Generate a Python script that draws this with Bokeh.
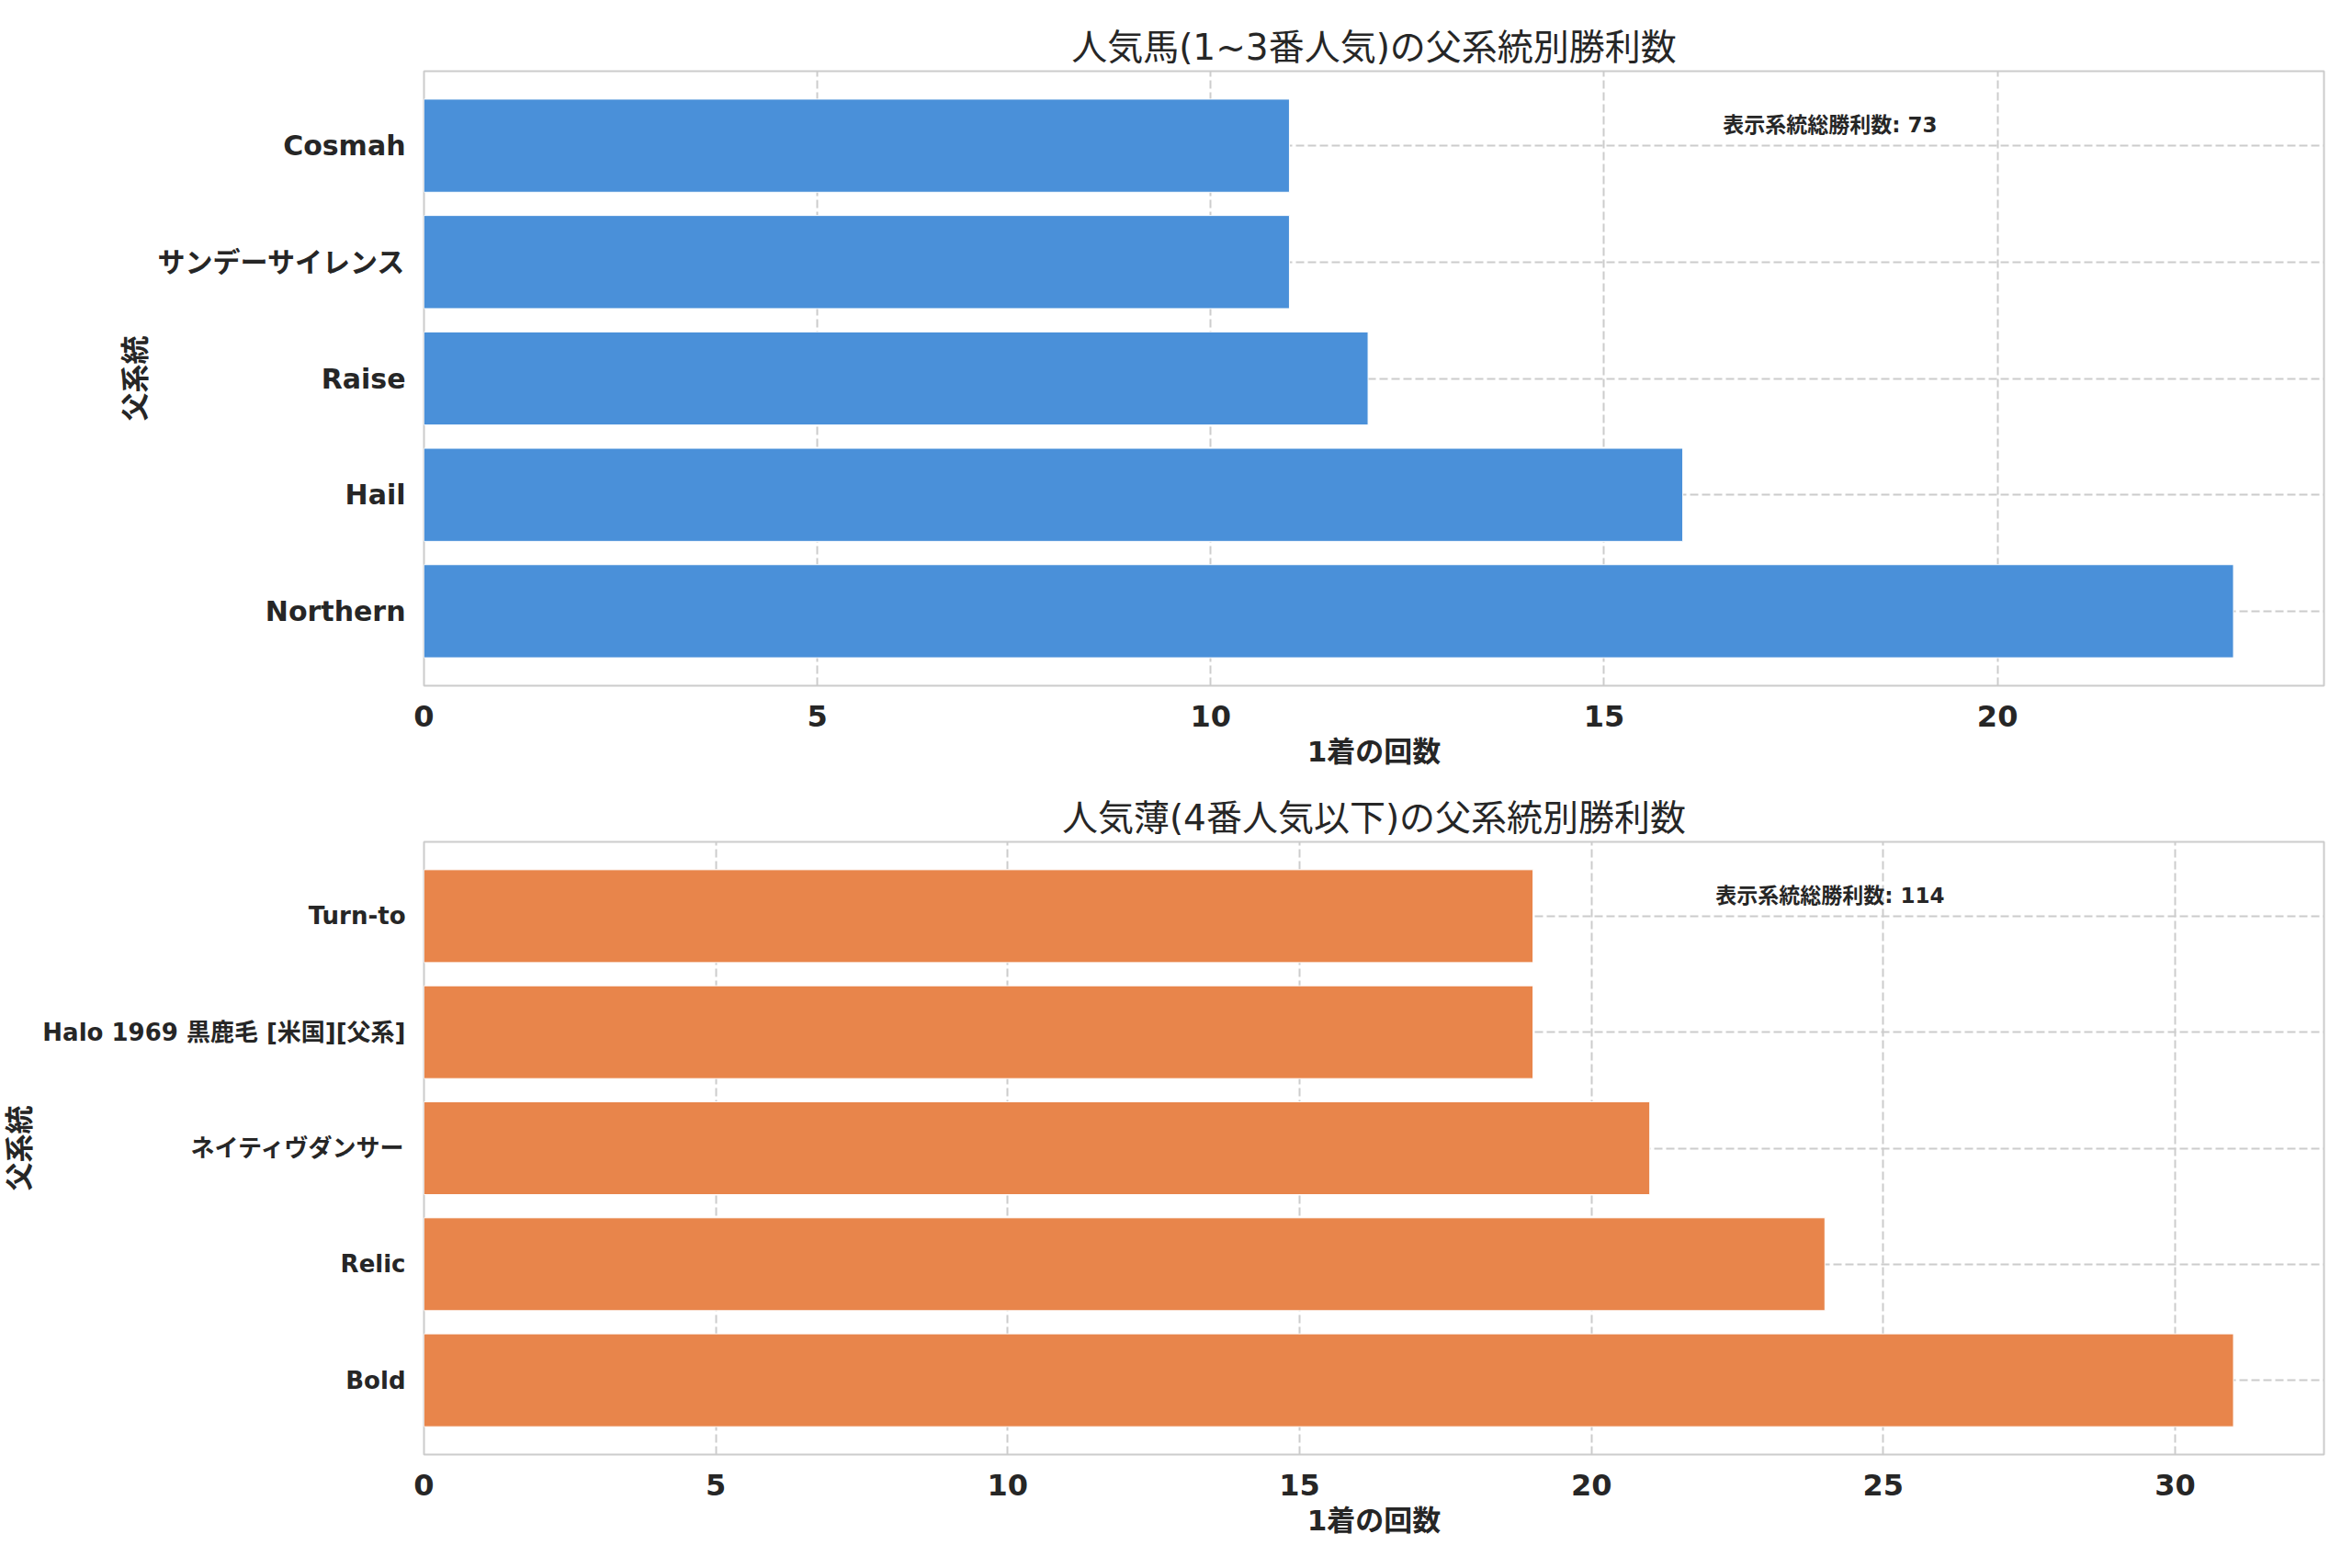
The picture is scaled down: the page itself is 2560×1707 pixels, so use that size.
from bokeh.plotting import figure
from bokeh.models import Range1d, FixedTicker, Label, ColumnDataSource
from bokeh.layouts import column
from bokeh.embed import file_html
from bokeh.resources import INLINE

# ---- data ----
top_title = "人気馬(1~3番人気)の父系統別勝利数"
top_categories = ["Northern", "Hail", "Raise", "サンデーサイレンス", "Cosmah"]
top_values = [23, 16, 12, 11, 11]
top_ticks = [0, 5, 10, 15, 20]

bottom_title = "人気薄(4番人気以下)の父系統別勝利数"
bottom_categories = ["Bold", "Relic", "ネイティヴダンサー", "Halo 1969 黒鹿毛 [米国][父系]", "Turn-to"]
bottom_values = [31, 24, 21, 19, 19]
bottom_ticks = [0, 5, 10, 15, 20, 25, 30]

x_label = "1着の回数"
y_label = "父系統"
total_label = "表示系統総勝利数"

FONT = "'DejaVu Sans', 'Noto Sans CJK JP'"
TXT = "#262626"


def make_chart(title, cats, vals, ticks, color, height, border_top, border_bottom, ylab_size):
    n = len(cats)
    xmax = max(vals) * 1.05
    p = figure(width=2544, height=height, output_backend="svg", toolbar_location=None,
               x_range=Range1d(0, xmax), y_range=Range1d(-0.4 - 0.24, n - 1 + 0.4 + 0.24),
               min_border_left=454, min_border_right=15,
               min_border_top=border_top, min_border_bottom=border_bottom,
               title=title)
    src = ColumnDataSource(dict(y=list(range(n)), v=vals))
    p.hbar(y="y", right="v", left=0, height=0.8, source=src,
           fill_color=color, line_color="white", line_width=1)

    p.title.align = "center"
    p.title.text_font = FONT
    p.title.text_font_size = "39px"
    p.title.text_font_style = "normal"
    p.title.text_color = TXT
    p.title.standoff = 8

    p.background_fill_color = "white"
    p.border_fill_color = "white"
    p.outline_line_color = "#cccccc"
    p.outline_line_width = 2

    p.xaxis.ticker = FixedTicker(ticks=ticks)
    p.yaxis.ticker = FixedTicker(ticks=list(range(n)))
    p.yaxis.major_label_overrides = {i: c for i, c in enumerate(cats)}

    for ax in (p.xaxis, p.yaxis):
        ax.axis_line_color = None
        ax.major_tick_line_color = None
        ax.minor_tick_line_color = None
        ax.major_label_text_font = FONT
        ax.major_label_text_font_style = "bold"
        ax.major_label_text_color = TXT
        ax.axis_label_text_font = FONT
        ax.axis_label_text_font_style = "bold"
        ax.axis_label_text_font_size = "31px"
        ax.axis_label_text_color = TXT
    p.xaxis.major_label_text_font_size = "32px"
    p.yaxis.major_label_text_font_size = ylab_size
    p.xaxis.major_label_standoff = 15
    p.yaxis.major_label_standoff = 14
    p.xaxis.axis_label = x_label
    p.yaxis.axis_label = y_label
    p.xaxis.axis_label_standoff = 6
    p.yaxis.axis_label_standoff = 4

    p.xgrid.grid_line_color = "#cccccc"
    p.xgrid.grid_line_dash = "9 4"
    p.xgrid.grid_line_width = 2
    p.ygrid.grid_line_color = "#cccccc"
    p.ygrid.grid_line_dash = "9 4"
    p.ygrid.grid_line_width = 2
    p.xgrid.level = "underlay"
    p.ygrid.level = "underlay"

    p.add_layout(Label(x=xmax * 0.74, y=n - 1 + 0.4 + 0.24 - 0.088 * (n + 0.28),
                       text=f"{total_label}: {sum(vals)}",
                       text_align="center", text_baseline="middle",
                       text_font=FONT, text_font_size="23px", text_font_style="bold",
                       text_color=TXT))
    return p


p1 = make_chart(top_title, top_categories, top_values, top_ticks, "#4A90D9", 849, 77, 103, "30px")
p2 = make_chart(bottom_title, bottom_categories, bottom_values, bottom_ticks, "#E8854B", 842, 67, 108, "26px")

layout = column(p1, p2, spacing=0)
open("out.html", "w").write(file_html(layout, INLINE))
